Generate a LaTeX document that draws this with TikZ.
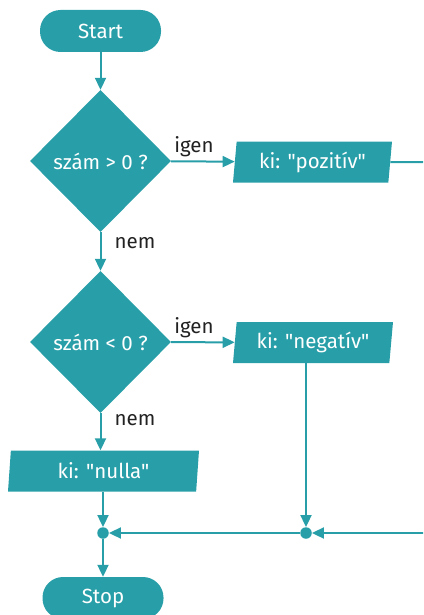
\documentclass[tikz,border=0pt]{standalone}
\usepackage{fontspec}
\setmainfont{Fira Sans}[Ligatures=TeXOff]
\usetikzlibrary{shapes.geometric,arrows.meta}
\definecolor{teal1}{HTML}{289FA8}
\definecolor{labelc}{HTML}{222222}
\begin{document}
\begin{tikzpicture}[x=1pt,y=-1pt,
  base/.style={fill=teal1,text=white,font=\fontsize{20.5}{23}\selectfont,inner sep=0pt},
  term/.style={base,rectangle,rounded corners=20.5pt,minimum width=121pt,minimum height=42pt},
  decision/.style={base,diamond,minimum width=141pt,minimum height=142pt},
  io/.style={base,trapezium,trapezium left angle=80,trapezium right angle=100,trapezium stretches body=true,minimum height=41pt},
  junction/.style={circle,fill=teal1,inner sep=0pt,minimum size=11.5pt},
  lab/.style={text=labelc,font=\fontsize{20.5}{23}\selectfont,inner sep=0pt},
  conn/.style={draw=teal1,line width=2pt},
  arr/.style={conn,-{Triangle[length=12pt,width=11pt]}}]
\useasboundingbox (0,0) rectangle (423,615);
\clip (0,0) rectangle (423,615);
\node[term] (start) at (100.5,31) {Start};
\node[decision] (d1) at (100.5,161) {szám > 0 ?};
\node[io,minimum width=159pt] (p1) at (312.5,162) {ki: "pozitív"\hspace{24pt}};
\node[decision] (d2) at (100.5,342) {szám < 0 ?};
\node[io,minimum width=160pt] (p2) at (313,342.5) {ki: "negatív"};
\node[io,minimum width=191pt] (p3) at (103.5,471) {ki: "nulla"};
\node[junction] (j1) at (103,533) {};
\node[junction] (j2) at (306,533) {};
\node[term] (stop) at (103,598) {Stop};
\coordinate (e1) at (440,162);
\coordinate (e2) at (440,533);
\node[lab] (l1) at (194,147) {igen};
\node[lab] (l2) at (135,243) {nem};
\node[lab] (l3) at (194,328) {igen};
\node[lab] (l4) at (135,420) {nem};
\draw[arr] (start) -- (d1);
\draw[arr] (d1) -- (p1);
\draw[conn] (p1) -- (e1);
\draw[arr] (d1) -- (d2);
\draw[arr] (d2) -- (p2);
\draw[arr] (d2.south) -- (d2.south |- p3.north);
\draw[arr] (p3.south -| j1) -- (j1);
\draw[arr] (p2.south -| j2) -- (j2);
\draw[arr] (e2) -- (j2);
\draw[arr] (j2) -- (j1);
\draw[arr] (j1) -- (stop);
\end{tikzpicture}
\end{document}
